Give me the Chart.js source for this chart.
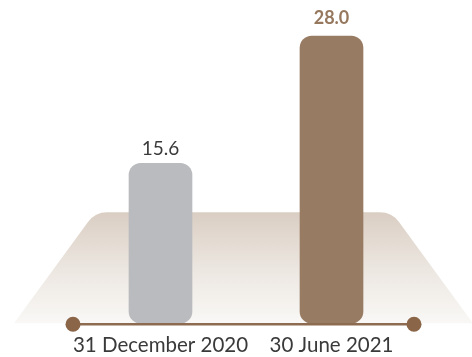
<!DOCTYPE html>
<html>
<head>
<meta charset="utf-8">
<script src="https://cdn.jsdelivr.net/npm/chart.js@4.4.1/dist/chart.umd.min.js"></script>
<style>
  html, body { margin: 0; padding: 0; background: #fff; }
  #wrap { width: 472px; height: 357px; }
</style>
</head>
<body>
<div id="wrap"><canvas id="debtChart" width="472" height="357"></canvas></div>
<script>
const categories = ["31 December 2020", "30 June 2021"];
const values = [15.6, 28.0];
const valueLabels = ["15.6", "28.0"];

const barColors = ["#babbbe", "#987b63"];
const labelColors = ["#3a3a3a", "#96785e"];
const labelWeights = ["normal", "bold"];

// soft trapezoid platform behind the bars
const platformPlugin = {
    id: "platform",
    beforeDatasetsDraw(chart) {
        const ctx = chart.ctx;
        const area = chart.chartArea;
        const bottom = area.bottom;
        const top = bottom - 111;
        const tl = 95, tr = 392, bl = 14, br = 473;
        const r = 24;
        ctx.save();
        const grad = ctx.createLinearGradient(0, top, 0, bottom);
        grad.addColorStop(0, "#dacec3");
        grad.addColorStop(0.5, "#ece6e0");
        grad.addColorStop(1, "#f9f8f6");
        ctx.fillStyle = grad;
        ctx.beginPath();
        ctx.moveTo(bl, bottom);
        ctx.arcTo(tl, top, tr, top, r);
        ctx.arcTo(tr, top, br, bottom, r);
        ctx.lineTo(br, bottom);
        ctx.closePath();
        ctx.fill();
        ctx.restore();
    }
};

// base line with end dots + value labels
const overlayPlugin = {
    id: "overlay",
    afterDatasetsDraw(chart) {
        const ctx = chart.ctx;
        const area = chart.chartArea;
        const y = area.bottom + 1;
        const x0 = area.left - 2;
        const x1 = area.right - 3;
        ctx.save();
        ctx.strokeStyle = "#8d6b50";
        ctx.lineWidth = 2.5;
        ctx.beginPath();
        ctx.moveTo(x0, y);
        ctx.lineTo(x1, y);
        ctx.stroke();
        ctx.fillStyle = "#8b6548";
        [x0, x1].forEach(x => {
            ctx.beginPath();
            ctx.arc(x, y, 7.5, 0, Math.PI * 2);
            ctx.fill();
        });

        const meta = chart.getDatasetMeta(0);
        ctx.textAlign = "center";
        ctx.textBaseline = "bottom";
        meta.data.forEach((bar, i) => {
            const bold = labelWeights[i] === "bold";
            ctx.font = (bold ? "bold 18px" : "19px") + " Lato, 'Open Sans', sans-serif";
            ctx.fillStyle = labelColors[i];
            ctx.fillText(valueLabels[i], bar.x, bar.y - (bold ? 9 : 5));
        });
        ctx.restore();
    }
};

new Chart(document.getElementById("debtChart"), {
    type: "bar",
    data: {
        labels: categories,
        datasets: [{
            data: values,
            backgroundColor: barColors,
            borderRadius: 12,
            borderSkipped: false,
            barThickness: 63
        }]
    },
    options: {
        responsive: false,
        devicePixelRatio: 1,
        animation: false,
        layout: { padding: { left: 75, right: 55, top: 15.5, bottom: -10.3 } },
        plugins: { legend: { display: false }, tooltip: { enabled: false } },
        scales: {
            y: { display: false, min: 0, max: 30 },
            x: {
                grid: { display: false, drawTicks: false },
                border: { display: false },
                ticks: {
                    padding: 9.7,
                    maxRotation: 0,
                    minRotation: 0,
                    autoSkip: false,
                    color: "#3a3a3a",
                    font: { family: "Lato, 'Open Sans', sans-serif", size: 20.5 }
                }
            }
        }
    },
    plugins: [platformPlugin, overlayPlugin]
});
</script>
</body>
</html>
